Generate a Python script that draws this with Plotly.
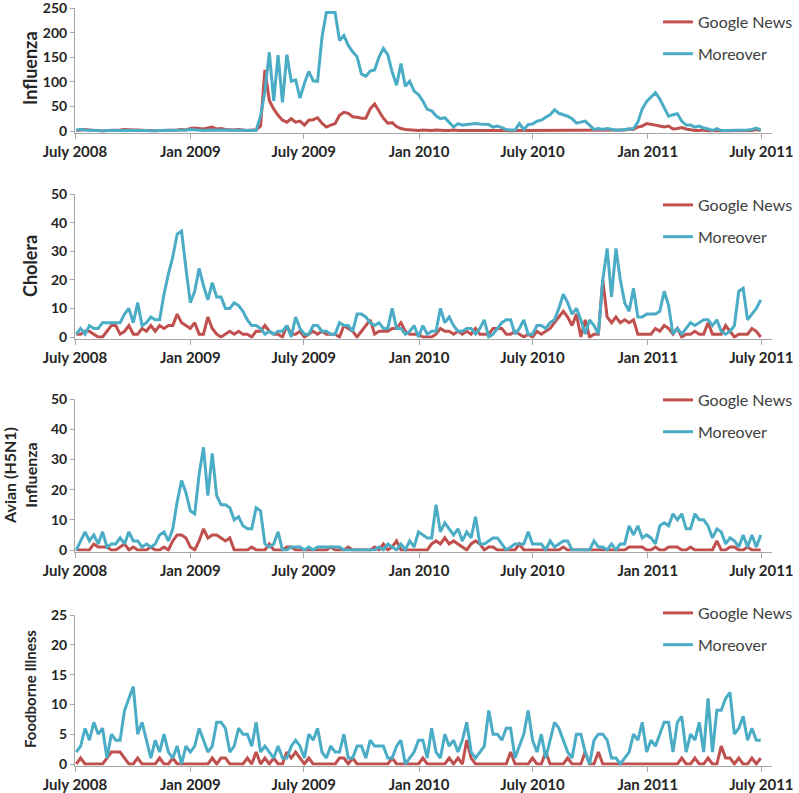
import plotly.graph_objects as go
import pandas as pd

W, H = 799, 793

# ---------------- data (weekly counts) ----------------
weeks = pd.date_range("2008-07-03", periods=157, freq="7D")

tick_vals = ["2008-07-01", "2009-01-01", "2009-07-01", "2010-01-01",
             "2010-07-01", "2011-01-01", "2011-07-01"]
tick_text = ["July 2008", "Jan 2009", "July 2009", "Jan 2010",
             "July 2010", "Jan 2011", "July 2011"]

series_names = ["Google News", "Moreover"]

flu_gn = [1,2,3,2,1,1,0,1,1,1, 2,3,2,2,2,1,1,1,0,1, 1,2,1,2,3,2,5,6,5,4,
          6,8,4,5,3,2,2,3,2,1, 2,2,10,124,62,45,32,22,18,25, 18,20,12,22,23,27,16,8,12,15,
          32,38,36,29,28,26,26,45,55,40, 26,16,17,9,5,3,2,2,1,2, 1,1,2,1,1,1,2,1,1,1,
          1,2,1,1,1,2,1,1,1,0, 1,1,1,1,1,1,2,1,1,2, 1,2,1,1,1,1,2,1,1,1,
          1,1,1,2,2,2,4,3,8,10, 15,14,12,10,8,10,4,5,7,4, 2,1,1,2,0,1,1,0,0,1,
          0,1,0,1,1,3,1]
flu_mo = [2,3,2,1,1,1,0,1,1,1, 1,2,1,1,1,1,1,0,1,1, 1,1,1,2,1,2,3,2,2,1,
          2,2,1,2,1,1,1,1,1,2, 2,1,30,80,160,61,154,58,155,101, 104,67,97,121,102,101,190,241,241,241,
          184,194,174,161,151,116,111,122,124,150, 168,155,120,93,137,91,101,81,74,61,
          44,41,31,25,27,18,8,15,12,13, 14,15,14,14,13,8,10,7,3,2,
          2,15,3,13,14,20,22,28,33,43, 36,33,30,25,16,18,20,12,3,5,
          3,5,3,2,2,3,3,5,18,45, 60,70,78,65,48,30,33,35,20,12,
          12,8,10,6,4,1,5,1,1,1, 1,1,2,2,3,6,2]

chol_gn = [1,1,2,2,1,0,0,2,4,4, 1,2,4,1,1,3,2,4,2,4, 3,4,4,8,5,4,3,5,1,1,
           7,3,1,0,1,2,1,2,1,1, 0,2,2,4,2,1,1,0,4,1, 1,2,0,1,2,1,2,1,1,1,
           0,4,3,2,0,2,4,6,1,2, 2,2,3,3,5,2,1,1,1,0, 0,0,1,3,2,2,1,2,1,2,
           1,3,1,1,1,3,3,3,1,1, 2,1,0,1,0,2,1,2,3,5, 7,9,7,4,8,0,6,0,1,1,
           20,7,5,7,5,6,5,6,1,1, 1,1,3,2,4,3,1,3,0,1, 1,2,1,1,5,1,1,1,4,2,
           0,1,1,1,3,2,0]
chol_mo = [1,3,1,4,3,3,5,5,5,5, 5,8,10,5,12,4,5,7,6,6, 15,22,28,36,37,24,12,16,24,18,
           13,19,14,14,10,10,12,11,9,6, 4,4,3,1,2,1,2,2,4,0, 7,3,1,1,4,4,2,2,1,1,
           5,4,4,2,8,8,7,5,4,5, 3,3,10,3,3,1,2,4,0,4, 1,2,2,10,5,7,4,2,2,3,
           3,1,3,6,0,1,3,5,6,6, 1,3,6,1,1,4,4,3,5,6, 10,15,12,8,10,6,1,6,4,1,
           20,31,14,31,20,12,9,17,7,7, 8,8,8,9,16,11,1,3,1,3, 5,4,5,6,6,4,6,2,1,2,
           4,16,17,6,8,10,13]

av_gn = [0,0,0,0,2,1,1,1,0,0, 1,2,0,1,0,0,0,1,0,0, 1,0,3,5,5,4,1,0,3,7,
         4,5,5,4,3,4,0,0,0,0, 1,0,0,0,2,0,0,0,1,1, 0,0,0,0,0,0,0,0,1,0,
         0,0,1,0,0,0,0,0,1,0, 2,0,1,3,0,0,0,0,0,0, 0,2,3,2,4,2,3,2,1,0,
         2,3,2,0,1,1,0,0,0,0, 0,2,0,0,0,0,0,0,0,0, 0,1,0,0,0,0,0,0,0,0,
         0,0,0,0,0,0,1,1,1,1, 0,0,1,0,0,1,1,1,0,0, 1,0,0,0,0,0,3,0,0,1,
         1,0,0,1,0,0,0]
av_mo = [0,3,6,3,5,2,6,1,2,2, 4,2,6,3,3,1,2,1,2,5, 6,3,7,16,23,19,13,12,25,34,
         18,32,18,15,15,14,10,11,8,7, 7,14,13,2,1,2,6,0,0,1, 1,1,0,1,0,1,1,1,1,1,
         1,0,0,0,0,0,0,0,0,1, 0,2,1,0,2,0,3,1,6,5, 4,4,15,6,9,7,5,7,3,6,
         4,11,2,2,3,4,4,2,0,1, 2,2,2,6,2,2,2,0,3,1, 2,3,3,0,0,0,0,0,3,1,
         1,0,2,0,2,2,8,5,8,4, 5,4,2,8,9,8,12,10,12,7, 7,12,10,10,8,4,7,6,2,4,
         3,1,5,1,5,1,5]

fb_gn = [0,1,0,0,0,0,0,1,2,2, 2,1,0,0,1,0,0,0,0,1, 0,0,1,0,0,0,0,0,0,0,
         0,1,0,1,1,0,0,0,0,1, 0,2,0,1,0,1,0,0,2,1, 2,1,0,1,0,0,0,0,0,0,
         1,1,0,1,0,0,0,0,0,0, 0,0,1,0,0,0,0,0,0,1, 0,0,0,0,0,1,0,1,0,4,
         1,0,0,0,0,0,0,0,0,2, 0,0,0,0,1,0,0,2,0,0, 0,0,1,0,0,0,2,0,0,2,
         0,0,0,0,0,0,0,0,0,0, 0,0,0,0,0,0,0,0,1,0, 0,1,0,0,1,0,0,3,1,1,
         0,1,0,0,1,0,1]
fb_mo = [2,3,6,4,7,5,6,1,5,4, 4,9,11,13,5,7,4,1,4,2, 5,2,1,3,0,3,2,3,6,4,
         2,3,7,7,6,2,3,6,5,5, 3,7,2,3,2,1,3,1,1,3, 4,3,1,5,4,6,2,1,3,2,
         2,5,1,1,3,3,1,4,3,3, 3,1,1,3,4,0,1,2,4,4, 1,6,2,1,5,3,4,2,4,7,
         2,1,2,3,9,5,5,4,6,6, 1,3,5,9,4,2,5,1,4,7, 6,4,2,1,5,5,2,0,4,5,
         5,4,1,1,0,1,2,5,4,7, 2,4,3,5,7,7,2,7,8,2, 5,4,7,2,11,2,9,9,11,12,
         5,6,8,4,6,4,4]

# ---------------- styling ----------------
RED = "#C0504D"
BLUE = "#4BACC6"
AXIS = "#A6A6A6"
TXT = "#262626"
FONT = "Lato"

# (title, gn, mo, ymax, dtick, top_px, zero_px, title_size, title_x_px, title_y_px, legend_top_px)
panels = [
    ("<b>Influenza</b>", flu_gn, flu_mo, 250, 50, 8, 131, 18, 30, 68, 5),
    ("<b>Cholera</b>", chol_gn, chol_mo, 50, 10, 194, 337, 18, 30, 266, 188),
    ("<b>Avian (H5N1)<br>Influenza</b>", av_gn, av_mo, 50, 10, 399, 550, 16, 20, 476, 383),
    ("<b>Foodborne Illness</b>", fb_gn, fb_mo, 25, 5, 615, 764, 15, 30, 689, 596),
]

x0_px, x1_px = 75, 772
pad_px = 1.5

fig = go.Figure()
layout = dict(
    width=W, height=H,
    margin=dict(l=0, r=0, t=0, b=0, pad=0, autoexpand=False),
    paper_bgcolor="white", plot_bgcolor="white",
    font=dict(family=FONT, color=TXT),
    annotations=[],
)

for i, (title, gn, mo, ymax, dtick, top_px, zero_px, tsize, tx_px, ty_px, leg_px) in enumerate(panels):
    n = i + 1
    xa = "x" if n == 1 else f"x{n}"
    ya = "y" if n == 1 else f"y{n}"
    leg = "legend" if n == 1 else f"legend{n}"
    unit = (zero_px - top_px) / ymax
    ymin = -pad_px / unit
    dom = [(H - (zero_px + pad_px)) / H, (H - top_px) / H]

    fig.add_trace(go.Scatter(x=weeks, y=gn, mode="lines", name=series_names[0],
                             line=dict(color=RED, width=3), xaxis=xa, yaxis=ya,
                             legend=leg, legendgroup=f"g{n}a"))
    fig.add_trace(go.Scatter(x=weeks, y=mo, mode="lines", name=series_names[1],
                             line=dict(color=BLUE, width=3), xaxis=xa, yaxis=ya,
                             legend=leg, legendgroup=f"g{n}b"))

    xkey = "xaxis" if n == 1 else f"xaxis{n}"
    ykey = "yaxis" if n == 1 else f"yaxis{n}"
    layout[xkey] = dict(
        domain=[x0_px / W, x1_px / W], anchor=ya, automargin=False,
        type="date", range=["2008-07-01", "2011-07-18"],
        tickmode="array", tickvals=tick_vals, ticktext=tick_text,
        showline=True, linecolor=AXIS, linewidth=1,
        ticks="outside", ticklen=5, tickcolor=AXIS, tickwidth=1,
        showgrid=False, zeroline=False,
        tickfont=dict(family=FONT, size=15, color=TXT, weight="bold"),
        ticklabelstandoff=0, ticklabeloverflow="allow",
    )
    layout[ykey] = dict(
        domain=dom, anchor=xa, range=[ymin, ymax], automargin=False,
        tickmode="linear", tick0=0, dtick=dtick,
        showline=True, linecolor=AXIS, linewidth=1,
        ticks="outside", ticklen=4, tickcolor=AXIS, tickwidth=1,
        showgrid=False, zeroline=False,
        tickfont=dict(family=FONT, size=14, color=TXT, weight="bold"),
        ticklabeloverflow="allow",
    )
    layout[leg] = dict(
        x=658 / W, xanchor="left", y=(H - leg_px) / H, yanchor="top",
        bgcolor="rgba(0,0,0,0)", borderwidth=0,
        font=dict(family=FONT, size=16, color="#404040"),
        tracegroupgap=8, traceorder="grouped",
    )
    layout["annotations"].append(dict(
        text=title, textangle=-90, xref="paper", yref="paper",
        x=tx_px / W, y=(H - ty_px) / H,
        xanchor="center", yanchor="middle", showarrow=False,
        font=dict(family=FONT, size=tsize, color=TXT),
    ))

fig.update_layout(**layout)
fig.write_html("out.html")
